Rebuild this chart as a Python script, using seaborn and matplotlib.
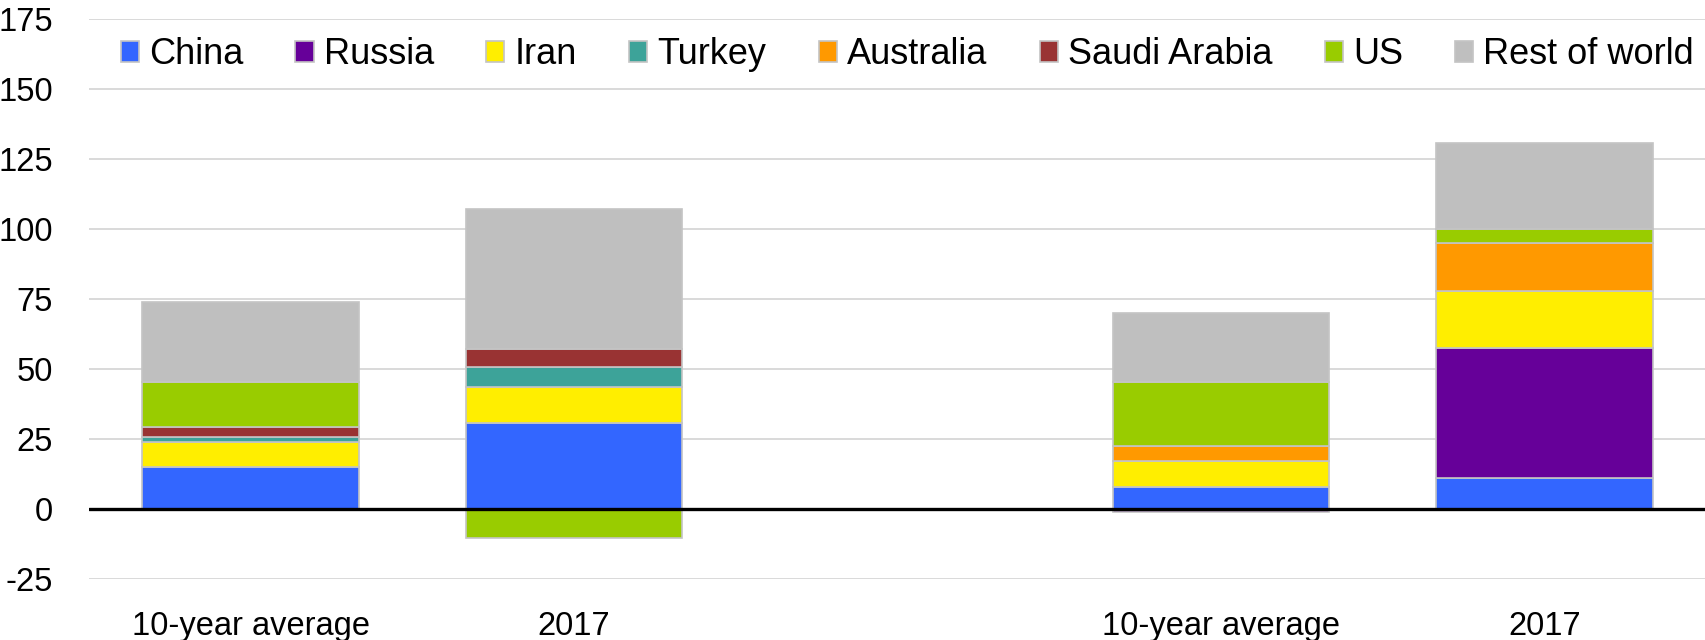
import numpy as np
import pandas as pd
import matplotlib
matplotlib.use("Agg")
import matplotlib.pyplot as plt
import seaborn as sns

# ---- data ----
slots = ["A|10-year average", "A|2017", "B|10-year average", "B|2017"]
slot_order = ["A|10-year average", "A|2017", "gap", "B|10-year average", "B|2017"]
tick_labels = ["10-year average", "2017", "", "10-year average", "2017"]

series = ["China", "Russia", "Iran", "Turkey", "Australia", "Saudi Arabia", "US", "Rest of world"]
china = [15.1, 30.7, 7.8, 11.3]
russia = [0.0, 0.0, -1.0, 46.2]
iran = [9.0, 13.1, 9.3, 20.6]
turkey = [1.8, 7.1, 0.0, 0.0]
australia = [0.0, 0.0, 5.6, 17.1]
saudi = [3.5, 6.2, 0.0, 0.0]
us = [16.2, -10.4, 22.6, 5.0]
rest = [28.5, 50.2, 24.8, 30.5]
values = [china, russia, iran, turkey, australia, saudi, us, rest]

colors = ["#3366FF", "#660099", "#FFEE00", "#3DA399", "#FF9900", "#993333", "#99CC00", "#BFBFBF"]

y_ticks = [-25, 0, 25, 50, 75, 100, 125, 150, 175]

# ---- style ----
sns.set_style("white")
plt.rcParams["font.family"] = ["Liberation Sans", "DejaVu Sans"]
plt.rcParams["axes.unicode_minus"] = False
plt.rcParams["text.color"] = "black"

fig = plt.figure(figsize=(17.06, 6.40), dpi=100)
ax = fig.add_axes([0.0522, 0.0948, 0.9478, 0.875])

pos_base = np.zeros(len(slots))
neg_base = np.zeros(len(slots))
for name, vals, col in zip(series, values, colors):
    v = np.array(vals, dtype=float)
    bottoms = np.where(v >= 0, pos_base, neg_base)
    df = pd.DataFrame({"slot": slots, "value": v, "bottom": bottoms})
    df = df[df["value"] != 0]
    sns.barplot(data=df, x="slot", y="value", order=slot_order, bottom=df["bottom"].to_numpy(),
                color=col, saturation=1, width=0.67, errorbar=None,
                edgecolor="#C4C4C4", linewidth=1.2, label=name, ax=ax, zorder=2)
    pos_base = pos_base + np.where(v > 0, v, 0)
    neg_base = neg_base + np.where(v < 0, v, 0)

ax.set_xlim(-0.5, 4.5)
ax.set_ylim(-25, 175)
ax.set_yticks(y_ticks)
ax.set_xticks(range(len(slot_order)))
ax.set_xticklabels(tick_labels)
ax.set_xlabel("")
ax.set_ylabel("")
for s in ax.spines.values():
    s.set_visible(False)
ax.grid(axis="y", color="#D9D9D9", linewidth=1.4, zorder=0)
ax.grid(axis="x", visible=False)
ax.set_axisbelow(True)
ax.axhline(0, color="black", linewidth=2.4, zorder=5)
ax.tick_params(axis="y", length=0, pad=26, labelsize=23.5, labelcolor="black")
ax.tick_params(axis="x", length=0, pad=23, labelsize=23.5, labelcolor="black")

handles, labels = ax.get_legend_handles_labels()
leg = ax.legend(handles, labels, loc="center", bbox_to_anchor=(0.506, 0.9366), ncol=8,
                frameon=False, fontsize=26, handlelength=0.5, handleheight=0.5,
                handletextpad=0.28, columnspacing=1.45, borderaxespad=0, borderpad=0,
                labelcolor="black")

fig.savefig("out.png", dpi=100)
